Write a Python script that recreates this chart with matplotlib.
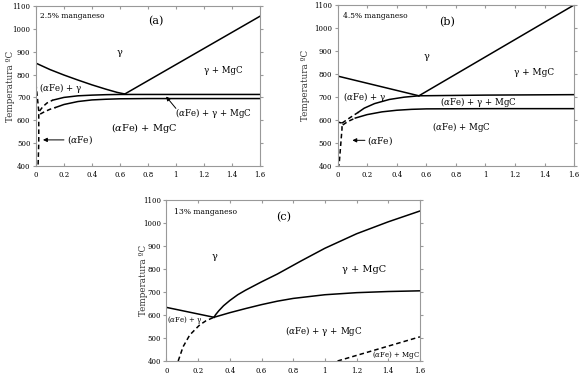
import numpy as np
import matplotlib
matplotlib.use("Agg")
import matplotlib.pyplot as plt

plt.rcParams['font.family'] = ['DejaVu Serif']
plt.rcParams['mathtext.fontset'] = 'dejavuserif'

# --- panel (a) : 2.5% manganeso ---
a_liq_x = [0, 0.1, 0.2, 0.3, 0.4, 0.5, 0.58, 0.635]
a_liq_T = [850, 822, 798, 776, 755, 736, 722, 715]
a_gm_x = [0.635, 1.6]
a_gm_T = [715, 1055]
a_up_dash_x = [0.025, 0.05, 0.08, 0.12]
a_up_dash_T = [640, 660, 676, 688]
a_up_x = [0.12, 0.2, 0.3, 0.4, 0.5, 0.6, 1.6]
a_up_T = [688, 700, 707, 710, 712, 713, 713]
a_lo_dash_x = [0.03, 0.06, 0.1, 0.14]
a_lo_dash_T = [627, 637, 648, 656]
a_lo_x = [0.14, 0.2, 0.3, 0.4, 0.5, 0.6, 0.8, 1.6]
a_lo_T = [656, 669, 682, 689, 692, 694, 695, 695]
a_fe_x = [0.0, 0.01, 0.02, 0.02, 0.015]
a_fe_T = [760, 700, 640, 500, 400]

# --- panel (b) : 4.5% manganeso ---
b_liq_x = [0, 0.55]
b_liq_T = [790, 704]
b_gm_x = [0.55, 1.6]
b_gm_T = [704, 1100]
b_up_dash_x = [0.03, 0.08, 0.14]
b_up_dash_T = [585, 607, 632]
b_up_x = [0.14, 0.18, 0.25, 0.35, 0.45, 0.55, 1.0, 1.6]
b_up_T = [632, 650, 670, 688, 698, 704, 707, 709]
b_lo_dash_x = [0.035, 0.07, 0.12]
b_lo_dash_T = [577, 592, 607]
b_lo_x = [0.12, 0.2, 0.3, 0.4, 0.5, 0.6, 1.0, 1.6]
b_lo_T = [607, 622, 634, 641, 645, 647, 648, 648]
b_fe_x = [0.0, 0.03, 0.03, 0.01]
b_fe_T = [590, 585, 560, 400]

# --- panel (c) : 13% manganeso ---
c_liq_x = [0, 0.3]
c_liq_T = [633, 590]
c_up_x = [0.3, 0.31, 0.33, 0.36, 0.4, 0.45, 0.5, 0.6, 0.7, 0.85, 1.0, 1.2, 1.4, 1.6]
c_up_T = [590, 601, 618, 640, 663, 688, 708, 744, 778, 835, 890, 953, 1005, 1052]
c_lo_x = [0.3, 0.4, 0.5, 0.6, 0.7, 0.8, 1.0, 1.2, 1.4, 1.6]
c_lo_T = [590, 610, 628, 645, 660, 672, 688, 697, 702, 705]
c_dash_x = [0.074, 0.105, 0.147, 0.21, 0.25, 0.3]
c_dash_T = [400, 462, 513, 557, 575, 590]
c_dash2_x = [1.08, 1.6]
c_dash2_T = [400, 505]

xticks = [0, 0.2, 0.4, 0.6, 0.8, 1, 1.2, 1.4, 1.6]
xticklabels = ['0', '0.2', '0.4', '0.6', '0.8', '1', '1.2', '1.4', '1.6']
yticks = [400, 500, 600, 700, 800, 900, 1000, 1100]

LW = 1.1
DASH = (0, (3, 2))
AF = r'($\alpha$Fe)'


def style_axes(ax, labx):
    ax.set_xlim(0, 1.6)
    ax.set_ylim(400, 1100)
    ax.set_xticks(xticks)
    ax.set_xticklabels(xticklabels)
    ax.set_yticks(yticks)
    for s in ax.spines.values():
        s.set_color('#999999')
        s.set_linewidth(0.8)
    ax.tick_params(axis='x', direction='in', top=True, length=2.5,
                   color='#999999', labelsize=5, pad=4)
    ax.tick_params(axis='y', direction='out', right=True, length=2.5,
                   color='#999999', labelsize=5, pad=1.5)
    ax.set_ylabel('Temperatura ºC', fontsize=6.3, color='#333333')
    ax.yaxis.set_label_coords(labx, 0.5)


def arrow(ax, tip, tail):
    ax.annotate('', xy=tip, xytext=tail,
                arrowprops=dict(arrowstyle='-|>', color='black', lw=0.7,
                                mutation_scale=6, shrinkA=0, shrinkB=0))


fig = plt.figure(figsize=(5.8, 3.78), dpi=100)
axa = fig.add_axes([0.062, 0.561, 0.386, 0.423])
axb = fig.add_axes([0.582, 0.562, 0.408, 0.425])
axc = fig.add_axes([0.287, 0.045, 0.437, 0.426])

# (a)
ax = axa
ax.plot(a_liq_x, a_liq_T, 'k-', lw=LW)
ax.plot(a_gm_x, a_gm_T, 'k-', lw=LW)
ax.plot(a_up_x, a_up_T, 'k-', lw=LW)
ax.plot(a_up_dash_x, a_up_dash_T, 'k', ls=DASH, lw=LW)
ax.plot(a_lo_x, a_lo_T, 'k-', lw=LW)
ax.plot(a_lo_dash_x, a_lo_dash_T, 'k', ls=DASH, lw=LW)
ax.plot(a_fe_x, a_fe_T, 'k', ls=DASH, lw=LW)
ax.text(0.03, 1058, '2.5% manganeso', fontsize=5.4, va='center')
ax.text(0.86, 1035, '(a)', fontsize=8, ha='center', va='center')
ax.text(0.6, 895, 'γ', fontsize=7, ha='center', va='center')
ax.text(1.34, 816, 'γ + MgC', fontsize=6.2, ha='center', va='center')
ax.text(0.025, 740, AF + ' + γ', fontsize=6.2, va='center')
ax.text(0.77, 566, AF + ' + MgC', fontsize=7, ha='center', va='center')
ax.text(0.22, 514, AF, fontsize=6.5, va='center')
ax.text(1.27, 632, AF + ' + γ + MgC', fontsize=6.2, ha='center', va='center')
arrow(ax, (0.05, 514), (0.2, 514))
arrow(ax, (0.93, 704), (1.0, 652))
style_axes(ax, -0.094)

# (b)
ax = axb
ax.plot(b_liq_x, b_liq_T, 'k-', lw=LW)
ax.plot(b_gm_x, b_gm_T, 'k-', lw=LW)
ax.plot(b_up_x, b_up_T, 'k-', lw=LW)
ax.plot(b_up_dash_x, b_up_dash_T, 'k', ls=DASH, lw=LW)
ax.plot(b_lo_x, b_lo_T, 'k-', lw=LW)
ax.plot(b_lo_dash_x, b_lo_dash_T, 'k', ls=DASH, lw=LW)
ax.plot(b_fe_x, b_fe_T, 'k', ls=DASH, lw=LW)
ax.text(0.035, 1052, '4.5% manganeso', fontsize=5.4, va='center')
ax.text(0.74, 1023, '(b)', fontsize=8, ha='center', va='center')
ax.text(0.6, 875, 'γ', fontsize=7, ha='center', va='center')
ax.text(1.33, 805, 'γ + MgC', fontsize=6.4, ha='center', va='center')
ax.text(0.036, 700, AF + ' + γ', fontsize=6.2, va='center')
ax.text(0.955, 679, AF + ' + γ + MgC', fontsize=6.2, ha='center', va='center')
ax.text(0.84, 566, AF + ' + MgC', fontsize=6.2, ha='center', va='center')
ax.text(0.2, 510, AF, fontsize=6.5, va='center')
arrow(ax, (0.1, 510), (0.185, 510))
style_axes(ax, -0.117)

# (c)
ax = axc
ax.plot(c_liq_x, c_liq_T, 'k-', lw=LW)
ax.plot(c_up_x, c_up_T, 'k-', lw=LW)
ax.plot(c_lo_x, c_lo_T, 'k-', lw=LW)
ax.plot(c_dash_x, c_dash_T, 'k', ls=DASH, lw=LW)
ax.plot(c_dash2_x, c_dash2_T, 'k', ls=DASH, lw=LW)
ax.text(0.05, 1049, '13% manganeso', fontsize=5.5, va='center')
ax.text(0.74, 1027, '(c)', fontsize=8, ha='center', va='center')
ax.text(0.305, 853, 'γ', fontsize=7, ha='center', va='center')
ax.text(1.25, 799, 'γ + MgC', fontsize=7, ha='center', va='center')
ax.text(0.005, 578, AF + ' + γ', fontsize=5, va='center')
ax.text(0.995, 532, AF + ' + γ + MgC', fontsize=6.3, ha='center', va='center')
ax.text(1.45, 426, AF + ' + MgC', fontsize=5, ha='center', va='center')
style_axes(ax, -0.074)

fig.savefig('out.png', dpi=100)
